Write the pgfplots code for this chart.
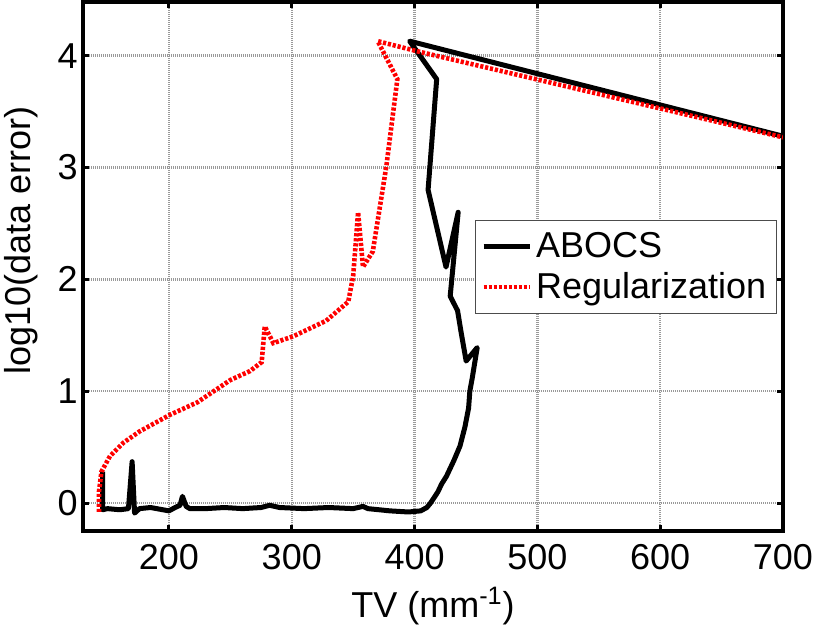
\documentclass[border=0pt]{standalone}
\usepackage{fontspec}
\setmainfont{Liberation Sans}
\usepackage{pgfplots}
\pgfplotsset{compat=1.18}

\begin{document}
\begin{tikzpicture}
\begin{axis}[
  scale only axis,
  width=350pt, height=264.5pt,
  xmin=130, xmax=700, ymin=-0.25, ymax=4.48,
  xtick={200,300,400,500,600,700},
  ytick={0,1,2,3,4},
  font=\fontsize{18}{21.6}\selectfont,
  /pgf/number format/assume math mode=true,
  /pgf/number format/1000 sep={},
  tick align=inside,
  major tick length=3pt,
  tick style={line width=1.5pt, black},
  axis line style={line width=1.8pt},
  grid=major,
  grid style={dash pattern=on 0.5pt off 0.5pt, gray!80, line width=1.2pt},
  xticklabel style={anchor=base, yshift=-19.5pt},
  yticklabel style={anchor=east, inner sep=0pt, xshift=-2.5pt},
  xlabel={TV (mm\textsuperscript{-1})},
  ylabel={log10(data error)},
  xlabel style={at={(axis description cs:0.5,0)}, anchor=base, yshift=-43pt},
  ylabel style={at={(axis description cs:-0.0757,0.55)}, anchor=base},
  legend style={at={(rel axis cs:0.991,0.588)}, anchor=north east,
    draw=black!70, line width=0.5pt, font=\fontsize{18}{21.6}\selectfont,
    row sep=2pt, inner ysep=4pt, cells={anchor=west}},
  legend image code/.code={\draw[#1] (0pt,0pt) -- (23pt,0pt);},
]
\addplot[black, line width=2.5pt, line join=round] coordinates {
  (146,0.28) (146,-0.06) (150,-0.05) (160,-0.06) (167,-0.05) (170,0.37)
  (172,-0.09) (176,-0.05) (185,-0.04) (195,-0.06) (200,-0.07) (205,-0.04)
  (209,-0.02) (211,0.06) (214,-0.03) (217,-0.05) (230,-0.05) (245,-0.04)
  (260,-0.05) (275,-0.04) (282,-0.02) (290,-0.04) (310,-0.05) (330,-0.04)
  (350,-0.05) (358,-0.03) (362,-0.05) (380,-0.07) (395,-0.08) (405,-0.07)
  (410,-0.04) (413,0.0) (419,0.10) (422,0.17) (426,0.24) (432,0.38)
  (437,0.51) (441,0.68) (444,0.85) (445,1.0) (447,1.12) (451,1.39)
  (442,1.27) (438,1.52) (435,1.72) (429,1.85) (435.5,2.6) (425.6,2.11)
  (411,2.8) (418,3.79) (396,4.13) (700,3.28)
};
\addlegendentry{ABOCS}
\addplot[red, line width=2.3pt, dash pattern=on 1.6pt off 0.9pt] coordinates {
  (143,-0.08) (143,0.1) (145,0.28) (152,0.42) (163,0.54) (176,0.64)
  (201,0.79) (223,0.90) (250,1.1) (266,1.18) (275.5,1.26) (278,1.58)
  (285,1.43) (301,1.49) (328,1.63) (346,1.80) (350,2.03) (354,2.6)
  (358,2.11) (366,2.25) (377,3.01) (386,3.79) (370,4.13) (402,4.04)
  (700,3.27)
};
\addlegendentry{Regularization}
\end{axis}
\pgfresetboundingbox
\path (-41.5pt,-51pt) rectangle (366.5pt,265.5pt);
\end{tikzpicture}
\end{document}
